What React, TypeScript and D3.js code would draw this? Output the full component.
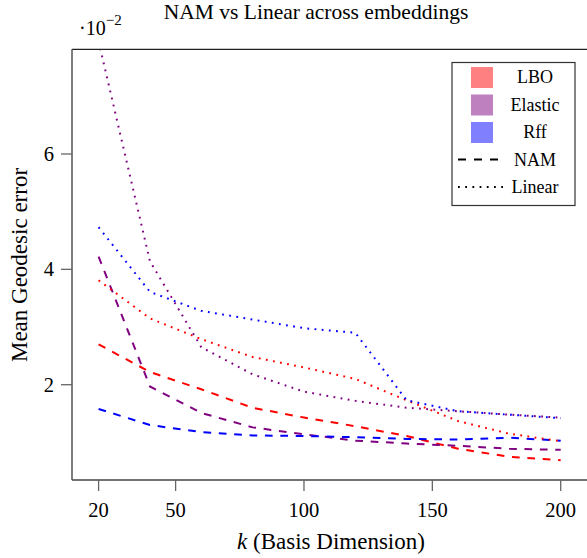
import React, { useRef, useEffect } from 'react';
import * as d3 from 'd3';

// basis dimension k
const ks = [20, 40, 60, 80, 100, 120, 140, 160, 180, 200];

// mean geodesic error, in units of 1e-2
const lboNam = [2.7, 2.22, 1.92, 1.6, 1.43, 1.28, 1.11, 0.89, 0.75, 0.69];
const elasticNam = [4.22, 1.97, 1.51, 1.26, 1.14, 1.03, 0.98, 0.94, 0.89, 0.87];
const rffNam = [1.58, 1.3, 1.18, 1.12, 1.11, 1.09, 1.06, 1.05, 1.08, 1.03];
const lboLinear = [3.81, 3.15, 2.79, 2.48, 2.3, 2.1, 1.73, 1.37, 1.15, 1.02];
const elasticLinear = [7.95, 4.14, 2.65, 2.18, 1.88, 1.72, 1.6, 1.54, 1.48, 1.43];
const rffLinear = [4.73, 3.61, 3.28, 3.13, 2.98, 2.9, 1.73, 1.54, 1.48, 1.42];

const xTicks = [20, 50, 100, 150, 200];
const yTicks = [2, 4, 6];

const embeddings = ['LBO', 'Elastic', 'Rff'];
const methods = ['NAM', 'Linear'];

export default function App() {
  const svgRef = useRef<SVGSVGElement>(null);

  useEffect(() => {
    const w = 587;
    const h = 558;
    const font = '"Liberation Serif", "DejaVu Serif", serif';
    const svg = d3.select(svgRef.current);
    svg.selectAll('*').remove();
    svg
      .attr('width', w)
      .attr('height', h)
      .style('position', 'absolute')
      .style('left', '0px')
      .style('top', '0px')
      .style('font-family', font);

    // plot frame
    const left = 72;
    const top = 49.3;
    const bottom = 480;
    const right = 600;

    // scales
    const xScale = d3.scaleLinear().domain([20, 200]).range([98.6, 560.7]);
    const yScale = d3.scaleLinear().domain([2, 6]).range([384.7, 154]);

    const colors: Record<string, string> = { LBO: '#ff0000', Elastic: '#800080', Rff: '#0000ff' };
    const light: Record<string, string> = { LBO: '#ff8080', Elastic: '#bf80bf', Rff: '#8080ff' };
    const dash: Record<string, string> = { NAM: '7.7 7.7', Linear: '1.8 5.4' };

    const series = [
      { emb: 'LBO', method: 'NAM', values: lboNam },
      { emb: 'Elastic', method: 'NAM', values: elasticNam },
      { emb: 'Rff', method: 'NAM', values: rffNam },
      { emb: 'LBO', method: 'Linear', values: lboLinear },
      { emb: 'Elastic', method: 'Linear', values: elasticLinear },
      { emb: 'Rff', method: 'Linear', values: rffLinear },
    ];

    svg
      .append('clipPath')
      .attr('id', 'plotclip')
      .append('rect')
      .attr('x', left)
      .attr('y', top)
      .attr('width', right - left)
      .attr('height', bottom - top);

    const line = d3
      .line<number>()
      .x((d, i) => xScale(ks[i]))
      .y((d) => yScale(d));

    svg
      .append('g')
      .attr('clip-path', 'url(#plotclip)')
      .selectAll('path')
      .data(series)
      .join('path')
      .attr('d', (d) => line(d.values))
      .attr('fill', 'none')
      .attr('stroke', (d) => colors[d.emb])
      .attr('stroke-width', 2)
      .attr('stroke-dasharray', (d) => dash[d.method]);

    // frame
    svg.append('line').attr('x1', left).attr('x2', right).attr('y1', top).attr('y2', top)
      .attr('stroke', '#222').attr('stroke-width', 1.3);
    svg.append('line').attr('x1', left).attr('x2', left).attr('y1', top).attr('y2', bottom)
      .attr('stroke', '#555').attr('stroke-width', 1.5);
    svg.append('line').attr('x1', left).attr('x2', right).attr('y1', bottom).attr('y2', bottom)
      .attr('stroke', '#444').attr('stroke-width', 1.5);

    // x ticks
    const xg = svg.append('g');
    xg.selectAll('line')
      .data(xTicks)
      .join('line')
      .attr('x1', (d) => xScale(d))
      .attr('x2', (d) => xScale(d))
      .attr('y1', bottom)
      .attr('y2', bottom + 11)
      .attr('stroke', '#666')
      .attr('stroke-width', 1.3);
    xg.selectAll('text')
      .data(xTicks)
      .join('text')
      .attr('x', (d) => xScale(d))
      .attr('y', 517)
      .attr('text-anchor', 'middle')
      .attr('font-size', 20.5)
      .text((d) => d);

    // y ticks
    const yg = svg.append('g');
    yg.selectAll('line')
      .data(yTicks)
      .join('line')
      .attr('x1', left - 11)
      .attr('x2', left)
      .attr('y1', (d) => yScale(d))
      .attr('y2', (d) => yScale(d))
      .attr('stroke', '#666')
      .attr('stroke-width', 1.3);
    yg.selectAll('text')
      .data(yTicks)
      .join('text')
      .attr('x', 54)
      .attr('y', (d) => yScale(d) + 7)
      .attr('text-anchor', 'end')
      .attr('font-size', 20.5)
      .text((d) => d);

    // scale factor
    const sf = svg.append('text').attr('x', 79).attr('y', 35).attr('font-size', 20);
    sf.append('tspan').text('·10');
    sf.append('tspan').attr('dy', -10).attr('font-size', 15).text('−2');

    // title
    svg.append('text')
      .attr('x', 316)
      .attr('y', 19)
      .attr('text-anchor', 'middle')
      .attr('font-size', 21.5)
      .text('NAM vs Linear across embeddings');

    // axis labels
    const xl = svg.append('text')
      .attr('x', 331)
      .attr('y', 549)
      .attr('text-anchor', 'middle')
      .attr('font-size', 23);
    xl.append('tspan').attr('font-style', 'italic').text('k');
    xl.append('tspan').text(' (Basis Dimension)');

    svg.append('text')
      .attr('transform', 'translate(27,265) rotate(-90)')
      .attr('text-anchor', 'middle')
      .attr('font-size', 23)
      .text('Mean Geodesic error');

    // legend
    const lg = svg.append('g');
    lg.append('rect')
      .attr('x', 452)
      .attr('y', 62.5)
      .attr('width', 123)
      .attr('height', 143)
      .attr('fill', 'white')
      .attr('stroke', '#333')
      .attr('stroke-width', 1.2);
    const rowY = (i: number) => 77 + i * 27.5;
    lg.selectAll('rect.patch')
      .data(embeddings)
      .join('rect')
      .attr('class', 'patch')
      .attr('x', 471)
      .attr('y', (d, i) => rowY(i) - 10)
      .attr('width', 22)
      .attr('height', 21)
      .attr('fill', (d) => light[d]);
    lg.selectAll('line.style')
      .data(methods)
      .join('line')
      .attr('class', 'style')
      .attr('x1', 458)
      .attr('x2', (d) => (d === 'NAM' ? 502 : 508))
      .attr('y1', (d, i) => rowY(i + 3))
      .attr('y2', (d, i) => rowY(i + 3))
      .attr('stroke', 'black')
      .attr('stroke-width', 2)
      .attr('stroke-dasharray', (d) => (d === 'NAM' ? '8 8' : '1.8 5.4'));
    lg.selectAll('text')
      .data([...embeddings, ...methods])
      .join('text')
      .attr('x', 535)
      .attr('y', (d, i) => rowY(i) + 6)
      .attr('text-anchor', 'middle')
      .attr('font-size', 18)
      .text((d) => d);
  }, []);

  return <svg ref={svgRef}></svg>;
}
